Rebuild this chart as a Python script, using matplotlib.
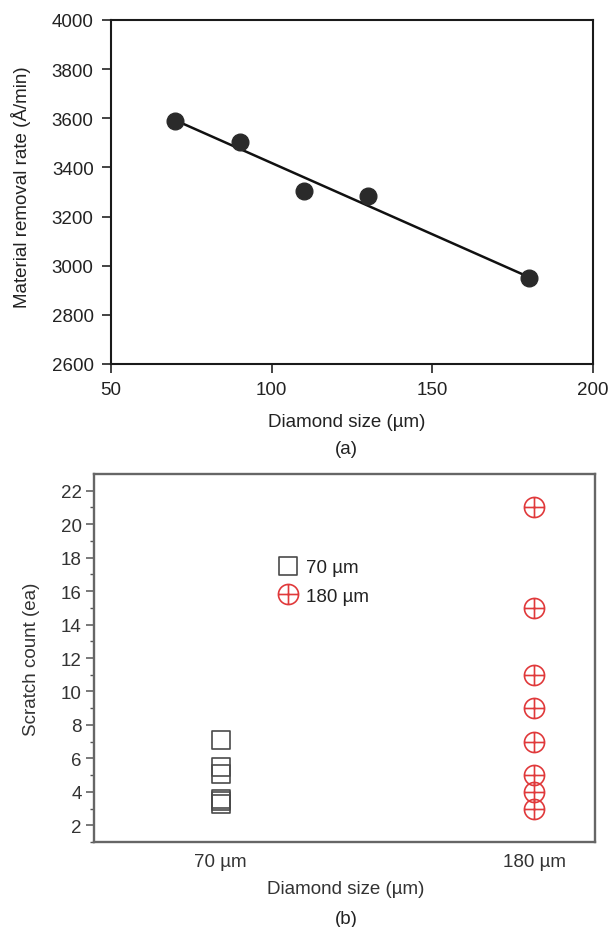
import numpy as np
import matplotlib
matplotlib.use("Agg")
import matplotlib.pyplot as plt
from matplotlib.path import Path

plt.rcParams['font.family'] = ['Liberation Sans', 'DejaVu Sans']

# ---- data (a) ----
diamond_size = [70, 90, 110, 130, 180]
removal_rate = [3588, 3502, 3305, 3283, 2948]
xticks_a = [50, 100, 150, 200]
yticks_a = [2600, 2800, 3000, 3200, 3400, 3600, 3800, 4000]

# ---- data (b) ----
categories_b = ['70 \u00b5m', '180 \u00b5m']
scratch_70 = [7.1, 5.5, 5.05, 3.6, 3.45, 3.3]
scratch_180 = [21, 15, 11, 9, 7, 5, 4, 3]
yticks_b = [2, 4, 6, 8, 10, 12, 14, 16, 18, 20, 22]

W, H = 612, 928
fig = plt.figure(figsize=(W / 100, H / 100), dpi=100)

def box(l, t, r, b):
    return [l / W, 1 - b / H, (r - l) / W, (b - t) / H]

FS = 13.5
dark = '#222222'

# ---------- panel (a) ----------
ax1 = fig.add_axes(box(111, 21, 593, 365))
coef = np.polyfit(diamond_size, removal_rate, 1)
xs = np.array([min(diamond_size), max(diamond_size)])
ax1.plot(xs, np.polyval(coef, xs), color='#111111', lw=1.8, zorder=2)
ax1.plot(diamond_size, removal_rate, 'o', color='#2a2a2a', ms=12, zorder=3)
ax1.set_xlim(50, 200)
ax1.set_ylim(2600, 4000)
ax1.set_xticks(xticks_a)
ax1.set_yticks(yticks_a)
ax1.tick_params(direction='out', length=6.5, width=1.2, labelsize=FS,
                colors=dark, pad=6)
ax1.tick_params(axis='y', pad=6)
for s in ax1.spines.values():
    s.set_linewidth(1.5)
    s.set_color('#1a1a1a')
ax1.set_xlabel('Diamond size (\u00b5m)', fontsize=FS, color=dark)
ax1.xaxis.set_label_coords(0.488, -0.166)
ax1.xaxis.label.set_va('center')
ax1.set_ylabel('Material removal rate (\u00c5/min)', fontsize=FS, color=dark)
ax1.yaxis.set_label_coords(-0.187, 0.517)
ax1.yaxis.label.set_va('center')
fig.text(346 / W, 1 - 450 / H, '(a)', ha='center', va='center',
         fontsize=FS, color=dark)

# ---------- panel (b) ----------
ax2 = fig.add_axes(box(94, 475, 595, 843))

oplus = Path.make_compound_path(
    Path.unit_circle(),
    Path([(-1, 0), (1, 0)]),
    Path([(0, -1), (0, 1)]),
)
sq = Path([(-1, -1), (1, -1), (1, 1), (-1, 1), (-1, -1)],
          [Path.MOVETO, Path.LINETO, Path.LINETO, Path.LINETO, Path.CLOSEPOLY])
dot = Path([(-.05, -.05), (.05, -.05), (.05, .05), (-.05, .05), (-.05, -.05)],
           [Path.MOVETO, Path.LINETO, Path.LINETO, Path.LINETO, Path.CLOSEPOLY])
sqdot = Path.make_compound_path(sq, dot)

gray = '#4a4a4a'
red = '#e0393b'
ax2.plot([0] * len(scratch_70), scratch_70, linestyle='none', marker=sqdot,
         ms=13, mfc='none', mec=gray, mew=1.2, label=categories_b[0])
ax2.plot([1] * len(scratch_180), scratch_180, linestyle='none', marker=oplus,
         ms=14.5, mfc='none', mec=red, mew=1.2, label=categories_b[1])

ax2.set_xlim(-0.4044, 1.1947)
ax2.set_ylim(1, 23)
ax2.set_xticks([0, 1])
ax2.set_xticklabels(categories_b)
ax2.set_yticks(yticks_b)
ax2.set_yticks(np.arange(1, 23, 1), minor=True)
ax2.tick_params(axis='x', length=0, labelsize=FS, colors='#333333', pad=8)
ax2.tick_params(axis='y', which='major', direction='out', length=6, width=1.1,
                labelsize=FS, colors='#333333', pad=3)
ax2.tick_params(axis='y', which='minor', direction='out', length=3, width=1.0,
                colors='#333333')
ax2.tick_params(axis='y', which='both', color='#555555')
for s in ax2.spines.values():
    s.set_linewidth(1.7)
    s.set_color('#666666')
ax2.set_xlabel('Diamond size (\u00b5m)', fontsize=FS, color='#333333')
ax2.xaxis.set_label_coords(0.503, -0.125)
ax2.xaxis.label.set_va('center')
ax2.set_ylabel('Scratch count (ea)', fontsize=FS, color='#333333')
ax2.yaxis.set_label_coords(-0.124, 0.5)
ax2.yaxis.label.set_va('center')

leg = ax2.legend(loc='center left', bbox_to_anchor=(0.369, 0.7065),
                 frameon=False, borderpad=0, borderaxespad=0,
                 handlelength=1.0, handletextpad=0.45, labelspacing=0.6,
                 fontsize=FS, numpoints=1)
for t in leg.get_texts():
    t.set_color('#222222')

fig.text(346 / W, 1 - 920 / H, '(b)', ha='center', va='center',
         fontsize=FS, color=dark)

fig.savefig('out.png', dpi=100)
